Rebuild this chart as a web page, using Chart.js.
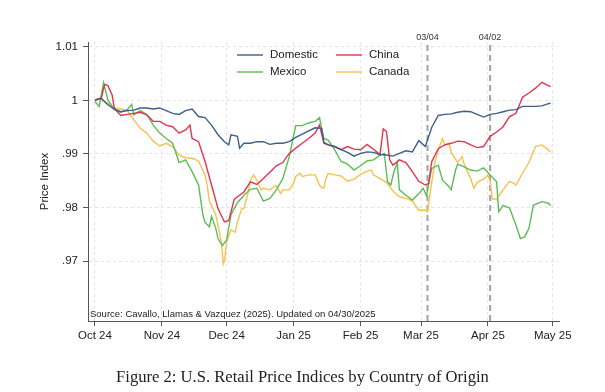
<!DOCTYPE html>
<html lang="en">
<head>
<meta charset="UTF-8">
<title>Retail Price Indices</title>
<style>
  html, body { margin: 0; padding: 0; background: #fff; }
  .wrap { position: relative; width: 605px; height: 392px; }
  #caption {
    position: absolute; left: 0; top: 367px; width: 605px; text-align: center;
    font: 16.6px 'Liberation Serif', 'Times New Roman', serif; color: #222;
  }
</style>
</head>
<body>
<div class="wrap">
  <canvas id="myChart" width="605" height="392"></canvas>
  <div id="caption">Figure 2: U.S. Retail Price Indices by Country of Origin</div>
</div>
<script src="https://cdn.jsdelivr.net/npm/chart.js@4.4.0/dist/chart.umd.min.js"></script>
<script>
// x values are days since Oct 1 2024
const monthDays = [0, 31, 61, 92, 123, 151, 182, 212];
const monthLabels = ['Oct 24', 'Nov 24', 'Dec 24', 'Jan 25', 'Feb 25', 'Mar 25', 'Apr 25', 'May 25'];
const yTicks = [0.97, 0.98, 0.99, 1.00, 1.01];
const yTickLabels = ['.97', '.98', '.99', '1', '1.01'];
const eventDays = [154, 183];
const eventLabels = ['03/04', '04/02'];
const seriesNames = ['Domestic', 'China', 'Mexico', 'Canada'];
const seriesColors = ['#3d5f8a', '#e3344f', '#5cbd55', '#f7c052'];

const domesticDays = [0,3,6,9,12,15,18,21,24,27,30,33,36,39,42,45,48,51,54,57,60,62,63,66,67,69,72,75,78,81,84,87,90,93,96,99,102,105,106,108,111,114,117,120,123,126,129,132,135,138,141,144,147,150,153,156,159,162,165,168,171,174,177,180,183,186,189,192,195,198,201,204,207,210,211];
const domestic = [1.0001,1.0004,0.9992,0.9984,0.9979,0.9981,0.9982,0.9986,0.9986,0.9984,0.9986,0.9981,0.9976,0.9974,0.9981,0.9984,0.9970,0.9968,0.9954,0.9936,0.9923,0.9917,0.9936,0.9933,0.9911,0.9920,0.9920,0.9923,0.9923,0.9918,0.9920,0.9920,0.9923,0.9931,0.9937,0.9943,0.9949,0.9948,0.9922,0.9917,0.9914,0.9908,0.9903,0.9896,0.9901,0.9904,0.9903,0.9899,0.9898,0.9896,0.9901,0.9906,0.9904,0.9925,0.9914,0.9950,0.9972,0.9974,0.9975,0.9978,0.9980,0.9979,0.9974,0.9969,0.9974,0.9976,0.9979,0.9982,0.9983,0.9989,0.9989,0.9989,0.9990,0.9994,0.9995];

const chinaDays = [0,3,4.5,6,8,9,12,15,18,21,24,27,30,33,36,39,42,44,45,48,51,54,57,60,62,64.5,66,69,72,75,78,81,84,87,90,93,96,99,102,104,106,108,111,114,117,120,123,126,129,132,133.5,135,136.5,138,141,144,147,150,153,154.5,156,159,162,165,168,171,174,177,180,183,186,189,192,195,198,201,204,207,210,211];
const china = [1.0000,1.0005,1.0030,1.0028,1.0010,0.9985,0.9972,0.9974,0.9976,0.9978,0.9973,0.9961,0.9961,0.9954,0.9951,0.9939,0.9945,0.9954,0.9929,0.9923,0.9886,0.9842,0.9798,0.9773,0.9776,0.9815,0.9820,0.9829,0.9848,0.9843,0.9854,0.9866,0.9878,0.9884,0.9901,0.9911,0.9920,0.9929,0.9939,0.9954,0.9920,0.9917,0.9914,0.9908,0.9914,0.9909,0.9908,0.9918,0.9909,0.9899,0.9947,0.9942,0.9889,0.9879,0.9889,0.9884,0.9867,0.9849,0.9842,0.9845,0.9886,0.9910,0.9917,0.9920,0.9924,0.9923,0.9917,0.9912,0.9914,0.9933,0.9941,0.9951,0.9970,0.9976,1.0006,1.0014,1.0023,1.0034,1.0028,1.0026];

const mexicoDays = [0,2,4,6,9,12,15,17,18,21,24,27,30,33,36,39,42,45,48,50,51,53,54,56,57,59,61,63,66,69,72,75,78,81,84,87,90,93,96,99,102,104,105,106,108,111,114,117,120,123,126,129,132,134,135.5,137,138.5,140,141,144,147,150,152,153.5,156,159,161,164,165,167,168,171,174,177,180,183,186,187,189,192,195,197,199,201,203,207,210,211];
const mexico = [0.9998,0.9989,1.0033,1.0001,0.9983,0.9978,0.9983,0.9993,0.9973,0.9981,0.9974,0.9954,0.9939,0.9929,0.9920,0.9884,0.9889,0.9867,0.9842,0.9786,0.9772,0.9764,0.9783,0.9761,0.9742,0.9729,0.9739,0.9786,0.9809,0.9823,0.9834,0.9836,0.9812,0.9817,0.9833,0.9854,0.9895,0.9953,0.9953,0.9958,0.9961,0.9968,0.9948,0.9929,0.9926,0.9908,0.9886,0.9881,0.9870,0.9878,0.9887,0.9889,0.9898,0.9901,0.9848,0.9842,0.9867,0.9884,0.9833,0.9823,0.9814,0.9826,0.9836,0.9822,0.9873,0.9879,0.9851,0.9839,0.9833,0.9870,0.9881,0.9876,0.9870,0.9868,0.9874,0.9861,0.9848,0.9792,0.9804,0.9799,0.9767,0.9742,0.9745,0.9761,0.9804,0.9811,0.9808,0.9803];

const canadaDays = [0,2,4,6,9,12,15,18,21,24,27,30,33,36,39,42,45,48,51,52,53,54,56,57,58.5,59.5,60,61,63,65,66,68,69,71,72,73.5,75,77,78,81,83,84,86,87,90,92,93,95,96,99,102,104,105,106,107,108,111,114,117,120,123,126,128,129,132,135,138,141,144,147,150,153,154,156,157.5,159,161,162,164,165,168,170,171,174,175.5,177,180,182,183,184,186,189,192,194,195,198,201,204,207,210,211];
const canada = [1.0001,1.0004,0.9998,0.9995,0.9986,0.9984,0.9981,0.9964,0.9948,0.9939,0.9924,0.9915,0.9920,0.9914,0.9898,0.9893,0.9892,0.9887,0.9861,0.9842,0.9811,0.9804,0.9786,0.9767,0.9736,0.9695,0.9701,0.9736,0.9758,0.9754,0.9773,0.9798,0.9798,0.9829,0.9851,0.9861,0.9851,0.9833,0.9836,0.9833,0.9839,0.9841,0.9826,0.9833,0.9833,0.9845,0.9858,0.9864,0.9858,0.9861,0.9861,0.9842,0.9837,0.9836,0.9854,0.9864,0.9861,0.9859,0.9849,0.9853,0.9862,0.9868,0.9870,0.9861,0.9854,0.9847,0.9831,0.9820,0.9817,0.9812,0.9795,0.9795,0.9792,0.9848,0.9886,0.9908,0.9929,0.9917,0.9920,0.9903,0.9884,0.9895,0.9881,0.9854,0.9836,0.9847,0.9853,0.9861,0.9848,0.9816,0.9816,0.9833,0.9849,0.9845,0.9842,0.9864,0.9884,0.9914,0.9917,0.9908,0.9903];

const seriesDays = [domesticDays, chinaDays, mexicoDays, canadaDays];
const seriesValues = [domestic, china, mexico, canada];

Chart.defaults.font.family = "'Liberation Sans', Arial, sans-serif";
Chart.defaults.color = '#222';

const ctx = document.getElementById('myChart').getContext('2d');

// dashed event lines + their labels
const eventLines = {
    id: 'eventLines',
    beforeDatasetsDraw(chart) {
        const {ctx, chartArea, scales} = chart;
        ctx.save();
        eventDays.forEach((d, i) => {
            const px = scales.x.getPixelForValue(d);
            ctx.strokeStyle = '#a3a3a3';
            ctx.lineWidth = 2;
            ctx.setLineDash([6, 4]);
            ctx.beginPath();
            ctx.moveTo(px, chartArea.top + 3);
            ctx.lineTo(px, chartArea.bottom);
            ctx.stroke();
            ctx.setLineDash([]);
            ctx.fillStyle = '#333';
            ctx.font = "9px 'Liberation Sans', Arial, sans-serif";
            ctx.textAlign = 'center';
            ctx.textBaseline = 'middle';
            ctx.fillText(eventLabels[i], px, chartArea.top - 4);
        });
        ctx.restore();
    }
};

// legend inside plot, two columns
const insideLegend = {
    id: 'insideLegend',
    afterDraw(chart) {
        const {ctx} = chart;
        const cols = [237, 336];
        const rows = [55, 72];
        ctx.save();
        ctx.font = "11.5px 'Liberation Sans', Arial, sans-serif";
        ctx.textBaseline = 'middle';
        ctx.textAlign = 'left';
        chart.data.datasets.forEach((ds, i) => {
            const x = cols[i % 2], y = rows[Math.floor(i / 2)];
            ctx.strokeStyle = ds.borderColor;
            ctx.lineWidth = 1.4;
            ctx.beginPath();
            ctx.moveTo(x, y);
            ctx.lineTo(x + 26, y);
            ctx.stroke();
            ctx.fillStyle = '#222';
            ctx.fillText(ds.label, x + 33, y);
        });
        ctx.restore();
    }
};

const sourceNote = {
    id: 'sourceNote',
    afterDraw(chart) {
        const {ctx, chartArea} = chart;
        ctx.save();
        ctx.font = "9.5px 'Liberation Sans', Arial, sans-serif";
        ctx.fillStyle = '#222';
        ctx.textBaseline = 'middle';
        ctx.fillText('Source: Cavallo, Llamas & Vazquez (2025). Updated on 04/30/2025', chartArea.left + 2, chartArea.bottom - 7);
        ctx.restore();
    }
};

const datasets = seriesNames.map((name, i) => ({
    label: name,
    data: seriesDays[i].map((d, j) => ({x: d, y: seriesValues[i][j]})),
    borderColor: seriesColors[i],
    backgroundColor: seriesColors[i],
    borderWidth: 1.4,
    pointRadius: 0,
    tension: 0,
    fill: false
}));

const chart = new Chart(ctx, {
    type: 'line',
    data: {datasets: datasets},
    plugins: [eventLines, insideLegend, sourceNote],
    options: {
        responsive: false,
        animation: false,
        layout: {padding: {top: 42, right: 46, bottom: 41, left: 0}},
        plugins: {legend: {display: false}, tooltip: {enabled: false}},
        scales: {
            x: {
                type: 'linear',
                min: -3.2,
                max: 214.9,
                afterBuildTicks: (scale) => { scale.ticks = monthDays.map(v => ({value: v})); },
                afterFit: (scale) => { scale.height = 30; scale.paddingLeft = 0; scale.paddingRight = 0; },
                ticks: {
                    autoSkip: false,
                    maxRotation: 0,
                    padding: 3,
                    font: {size: 11.5},
                    callback: (v, i) => monthLabels[i]
                },
                grid: {color: '#e4e4e4', lineWidth: 1, tickColor: '#555', tickLength: 5, tickBorderDash: []},
                border: {display: true, color: '#555', width: 1, dash: [3, 3]}
            },
            y: {
                min: 0.95879,
                max: 1.01093,
                afterBuildTicks: (scale) => { scale.ticks = yTicks.map(v => ({value: v})); },
                afterFit: (scale) => { scale.width = 88; scale.paddingTop = 0; scale.paddingBottom = 0; },
                ticks: {
                    padding: 5,
                    font: {size: 11.5},
                    callback: (v, i) => yTickLabels[i]
                },
                title: {
                    display: true,
                    text: 'Price Index',
                    font: {size: 11.5},
                    padding: {top: 38, bottom: 0}
                },
                grid: {color: '#e4e4e4', lineWidth: 1, tickColor: '#555', tickLength: 5, tickBorderDash: []},
                border: {display: true, color: '#555', width: 1, dash: [3, 3]}
            }
        }
    }
});
</script>
</body>
</html>
